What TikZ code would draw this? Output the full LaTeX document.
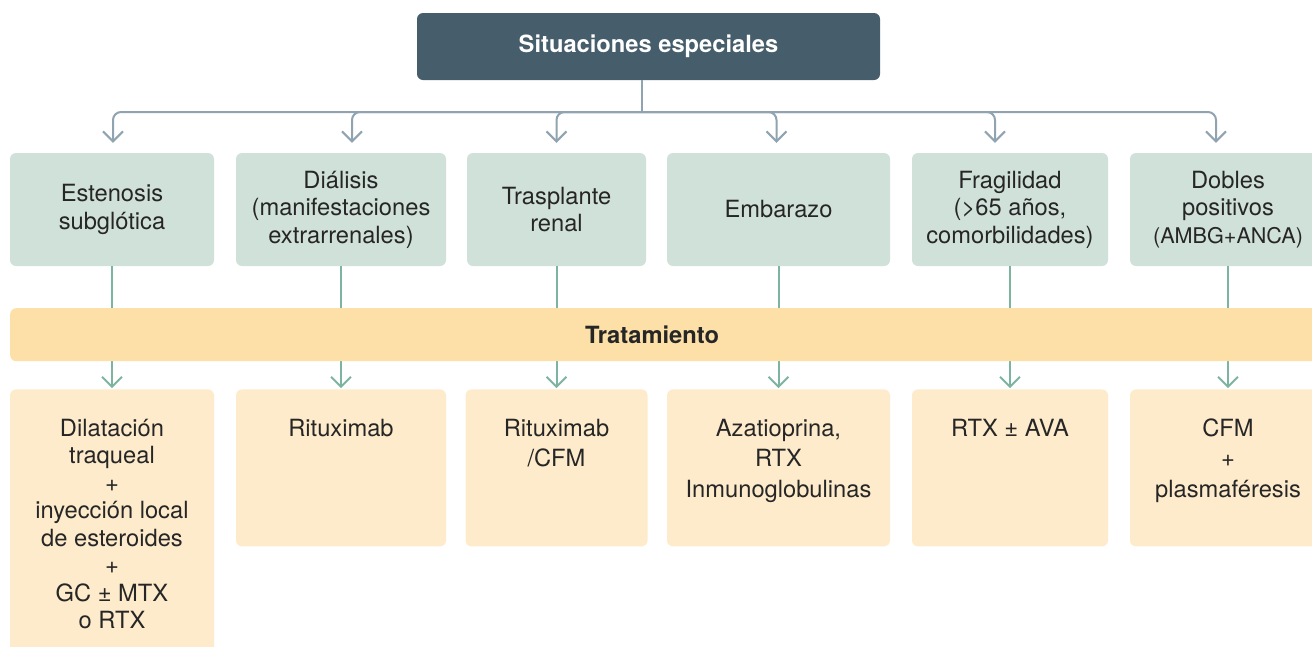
\documentclass[tikz,border=0pt]{standalone}
\usepackage{fontspec}
\setmainfont{TeX Gyre Heros}
\usetikzlibrary{positioning, arrows.meta}
\definecolor{slate}{HTML}{465E6C}
\definecolor{sage}{HTML}{D0E1D9}
\definecolor{sand}{HTML}{FDE0A8}
\definecolor{cream}{HTML}{FDEBCB}
\definecolor{greyblue}{HTML}{8FA3B0}
\definecolor{mint}{HTML}{7DB4A0}
\definecolor{ink}{HTML}{262626}
\tikzset{
>={Straight Barb[length=10pt, width=20pt]}, % open arrow heads
every node/.style={font=\fontsize{23.7}{27.5}\selectfont, text=ink, align=center}, % default text
head/.style={fill=slate, rounded corners=6pt, text=white, font=\fontsize{23.7}{27.5}\selectfont\bfseries}, % title box
sit/.style={fill=sage, rounded corners=6pt, minimum height=113pt, inner sep=0pt}, % situation boxes
trt/.style={fill=cream, rounded corners=6pt, minimum height=157pt, inner sep=0pt}, % treatment boxes
trtext/.style={anchor=north, inner sep=0pt}, % text at the top of a treatment box
band/.style={fill=sand, rounded corners=6pt, minimum height=53pt, inner sep=0pt}, % treatment band
up/.style={draw=greyblue, line width=2pt}, % upper connectors
low/.style={draw=mint, line width=2pt}, % lower connectors
}

\begin{document}
\begin{tikzpicture}[x=1pt, y=-1pt]
\useasboundingbox (0,0) rectangle (1312,646);
\node[head, minimum width=463pt, minimum height=67pt] (top) at (648.5,46.5) {Situaciones especiales};
\coordinate (hub) at (642,112);
\draw[up] (top.south -| hub) -- (hub);

\node[sit, minimum width=204pt] (s1) at (112,209.5) {Estenosis\\ subglótica};
\node[sit, minimum width=210pt] (s2) at (341,209.5) {Diálisis\\ (manifestaciones\\ extrarrenales)};
\node[sit, minimum width=179pt] (s3) at (556.5,209.5) {Trasplante\\ renal};
\node[sit, minimum width=223pt] (s4) at (778.5,209.5) {Embarazo};
\node[sit, minimum width=196pt] (s5) at (1010,209.5) {Fragilidad\\ (>65 años,\\ comorbilidades)};
\node[sit, minimum width=196pt] (s6) at (1228,209.5) {Dobles\\ positivos\\ {\fontsize{21.6}{27.5}\selectfont(AMBG+ANCA)}};

\foreach \b/\dx in {s1/1, s2/11, s3/0, s4/-2, s5/-15, s6/-12}
  \draw[up, ->, rounded corners=8pt] (hub) -| ([xshift=\dx pt, yshift=10pt]\b.north);

\node[trt, minimum width=204pt, minimum height=280pt, below=123pt of s1.south] (t1) {};
\node[trt, minimum width=210pt, below=123pt of s2.south] (t2) {};
\node[trt, minimum width=182pt, below=123pt of s3.south] (t3) {};
\node[trt, minimum width=223pt, below=123pt of s4.south] (t4) {};
\node[trt, minimum width=196pt, below=123pt of s5.south] (t5) {};
\node[trt, minimum width=196pt, below=123pt of s6.south] (t6) {};

\node[trtext] (x1) at ([yshift=-27.7pt]t1.north) {\strut Dilatación\\ traqueal\\ +\\ inyección local\\ de esteroides\\ +\\ GC ± MTX\\ o RTX};
\node[trtext] (x2) at ([yshift=-27.7pt]t2.north) {\strut Rituximab};
\node[trtext] (x3) at ([yshift=-27.7pt]t3.north) {\strut Rituximab\\[3pt] /CFM};
\node[trtext] (x4) at ([yshift=-27.7pt]t4.north) {\strut Azatioprina,\\[3pt] RTX\\[3pt] Inmunoglobulinas};
\node[trtext] (x5) at ([yshift=-27.7pt]t5.north) {\strut RTX ± AVA};
\node[trtext] (x6) at ([yshift=-27.7pt]t6.north) {\strut CFM\\[3pt] +\\[3pt] plasmaféresis};

\foreach \i in {1,...,6}
  \draw[low, ->] (s\i.south) -- ([yshift=1pt]t\i.north);

\node[band, minimum width=1330pt, anchor=north west] (trat) at (10,308) {};
\node[font=\fontsize{23.7}{27.5}\selectfont\bfseries] (tratxt) at (652,334.5) {Tratamiento};
\end{tikzpicture}
\end{document}
